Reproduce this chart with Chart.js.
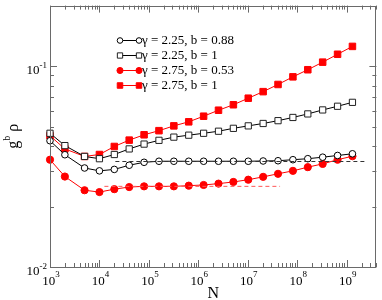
<!doctype html>
<html>
<head>
<meta charset="utf-8">
<script src="https://cdn.jsdelivr.net/npm/chart.js"></script>
<style>html,body{margin:0;padding:0;background:#fff}canvas{display:block}</style>
</head>
<body>
<canvas id="chart" width="382" height="300"></canvas>
<script>
// system sizes N (x axis)
const N = [1e3, 2e3, 5e3, 1e4, 2e4, 4e4, 8e4, 1.6e5, 3.2e5, 6.4e5, 1.28e6, 2.56e6,
  5.12e6, 1.024e7, 2.048e7, 4.096e7, 8.192e7, 1.6384e8, 3.2768e8, 6.5536e8, 1.31072e9];

// g^b rho for each (gamma, b)
const g225b088 = [0.0425, 0.0362, 0.0311, 0.0301, 0.0306, 0.0321, 0.0332, 0.0336, 0.0336, 0.0336, 0.0336,
  0.0336, 0.0336, 0.0336, 0.0337, 0.0338, 0.0342, 0.0346, 0.0352, 0.0359, 0.0366];
const g225b1 = [0.0463, 0.0402, 0.0355, 0.0346, 0.0363, 0.0387, 0.0409, 0.0427, 0.0443, 0.0453, 0.0463,
  0.0474, 0.0490, 0.0504, 0.0518, 0.0535, 0.0555, 0.0578, 0.0605, 0.0631, 0.0660];
const g275b053 = [0.0342, 0.0282, 0.0241, 0.0236, 0.0244, 0.0250, 0.0252, 0.0252, 0.0252, 0.0254, 0.0256,
  0.0260, 0.0265, 0.0272, 0.0281, 0.0291, 0.0301, 0.0314, 0.0326, 0.0342, 0.0356];
const g275b1 = [0.0450, 0.0387, 0.0355, 0.0363, 0.0398, 0.0428, 0.0455, 0.0477, 0.0504, 0.0528, 0.0563,
  0.0603, 0.0642, 0.0692, 0.0746, 0.0810, 0.0884, 0.0959, 0.1046, 0.1145, 0.1253];

// dashed plateau guides
const plateauBlackX = [2.1e4, 2.3e9];
const plateauBlackY = [0.0335, 0.0335];
const plateauRedX = [1.26e4, 4.5e7];
const plateauRedY = [0.0252, 0.0252];

const legendLabels = ['γ = 2.25, b = 0.88', 'γ = 2.25, b = 1', 'γ = 2.75, b = 0.53', 'γ = 2.75, b = 1'];
const xTickExps = [3, 4, 5, 6, 7, 8, 9];
const yTickExps = [-2, -1];

const SERIF = '"Liberation Serif", "Times New Roman", serif';
const pts = ys => ys.map((y, i) => ({ x: N[i], y }));
const seg = (xs, ys) => xs.map((x, i) => ({ x, y: ys[i] }));

const series = [
  { label: legendLabels[0], data: pts(g225b088), borderColor: '#000', pointStyle: 'circle', pointRadius: 3.3,
    pointBackgroundColor: '#fff', pointBorderColor: '#000' },
  { label: legendLabels[1], data: pts(g225b1), borderColor: '#000', pointStyle: 'rect', pointRadius: 4.4,
    pointBackgroundColor: '#fff', pointBorderColor: '#222' },
  { label: legendLabels[2], data: pts(g275b053), borderColor: '#f00', pointStyle: 'circle', pointRadius: 3.6,
    pointBackgroundColor: '#f00', pointBorderColor: '#f00' },
  { label: legendLabels[3], data: pts(g275b1), borderColor: '#f00', pointStyle: 'rect', pointRadius: 4.6,
    pointBackgroundColor: '#f00', pointBorderColor: '#f00' }
];

const datasets = [
  { data: seg(plateauBlackX, plateauBlackY), borderColor: '#333', borderDash: [4, 3], borderWidth: 1, pointRadius: 0 },
  { data: seg(plateauRedX, plateauRedY), borderColor: '#f55', borderDash: [4, 3], borderWidth: 1, pointRadius: 0 }
].concat(series.map(s => Object.assign({ borderWidth: 1, pointBorderWidth: 1, fill: false, clip: false }, s)));

function sup(ctx, base, exp, x, y, baseSize, supSize, align, supRise) {
  ctx.font = baseSize + 'px ' + SERIF;
  const wb = ctx.measureText(base).width;
  ctx.font = supSize + 'px ' + SERIF;
  const we = ctx.measureText(exp).width;
  const total = wb + we;
  let x0 = align === 'center' ? x - total / 2 : x - total;
  ctx.textAlign = 'left';
  ctx.textBaseline = 'alphabetic';
  ctx.font = baseSize + 'px ' + SERIF;
  ctx.fillText(base, x0, y);
  ctx.font = supSize + 'px ' + SERIF;
  ctx.fillText(exp, x0 + wb, y - supRise);
}

const frame = {
  id: 'frame',
  afterDraw(chart) {
    const { ctx, chartArea: a, scales } = chart;
    const xs = scales.x, ys = scales.y;
    ctx.save();
    ctx.strokeStyle = '#6a6a6a';
    ctx.lineWidth = 1;
    ctx.strokeRect(Math.round(a.left) + 0.5, Math.round(a.top) + 0.5,
      Math.round(a.right - a.left) - 1, Math.round(a.bottom - a.top));
    ctx.beginPath();
    for (let e = 3; e <= 9; e++) {
      for (let m = 1; m <= 9; m++) {
        const v = m * Math.pow(10, e);
        if (v < xs.min || v > xs.max) continue;
        const px = Math.round(xs.getPixelForValue(v)) + 0.5;
        const len = m === 1 ? 7 : 4;
        ctx.moveTo(px, a.bottom); ctx.lineTo(px, a.bottom - len);
        ctx.moveTo(px, a.top); ctx.lineTo(px, a.top + len);
      }
    }
    for (let e = -2; e <= -1; e++) {
      for (let m = 1; m <= 9; m++) {
        const v = m * Math.pow(10, e);
        if (v < ys.min || v > ys.max) continue;
        const py = Math.round(ys.getPixelForValue(v)) + 0.5;
        const len = m === 1 ? 7 : 4;
        ctx.moveTo(a.left, py); ctx.lineTo(a.left + len, py);
        ctx.moveTo(a.right, py); ctx.lineTo(a.right - len, py);
      }
    }
    ctx.stroke();

    ctx.fillStyle = '#000';
    xTickExps.forEach(e => {
      const px = xs.getPixelForValue(Math.pow(10, e));
      sup(ctx, '10', String(e), px + 1, a.bottom + 18, 13, 9, 'center', 8);
    });
    yTickExps.forEach(e => {
      const py = ys.getPixelForValue(Math.pow(10, e));
      sup(ctx, '10', String(e), a.left - 3, py + 8, 13, 9, 'right', 6);
    });

    // axis titles
    ctx.font = '16px ' + SERIF;
    ctx.textAlign = 'center';
    ctx.textBaseline = 'alphabetic';
    ctx.fillText('N', (a.left + a.right) / 2, 298);

    ctx.save();
    ctx.translate(17.5, (a.top + a.bottom) / 2);
    ctx.rotate(-Math.PI / 2);
    ctx.textAlign = 'left';
    ctx.font = '16px ' + SERIF;
    const wg = ctx.measureText('g').width;
    ctx.font = '10px ' + SERIF;
    const wbb = ctx.measureText('b').width;
    ctx.font = '16px ' + SERIF;
    const wr = ctx.measureText(' ρ').width;
    let u = -(wg + wbb + wr) / 2;
    ctx.fillText('g', u, 0); u += wg;
    ctx.font = '10px ' + SERIF;
    ctx.fillText('b', u, -8); u += wbb;
    ctx.font = '16px ' + SERIF;
    ctx.fillText(' ρ', u, 0);
    ctx.restore();

    // legend
    const rowY = [40, 55, 70, 85];
    series.forEach((s, i) => {
      const y = rowY[i];
      ctx.strokeStyle = s.borderColor;
      ctx.lineWidth = 1;
      ctx.beginPath(); ctx.moveTo(120, y + 0.5); ctx.lineTo(139, y + 0.5); ctx.stroke();
      [120, 139].forEach(x => {
        ctx.fillStyle = s.pointBackgroundColor;
        ctx.strokeStyle = s.pointBorderColor;
        Chart.helpers.drawPoint(ctx, { pointStyle: s.pointStyle, radius: s.pointRadius * 0.85, rotation: 0, borderWidth: 1 }, x, y + 0.5);
      });
      ctx.fillStyle = '#000';
      ctx.font = '13px ' + SERIF;
      ctx.textAlign = 'left';
      ctx.textBaseline = 'middle';
      ctx.fillText(s.label, 142, y + 1);
    });
    ctx.restore();
  }
};

new Chart(document.getElementById('chart'), {
  type: 'line',
  data: { datasets },
  options: {
    responsive: false,
    animation: false,
    devicePixelRatio: 1,
    layout: { padding: { left: 50, right: 2, top: 1, bottom: 33 } },
    plugins: { legend: { display: false }, tooltip: { enabled: false } },
    elements: { line: { tension: 0 } },
    scales: {
      x: { type: 'logarithmic', min: 1e3, max: 4e9, display: false },
      y: { type: 'logarithmic', min: 0.01, max: 0.2, display: false }
    }
  },
  plugins: [frame]
});
</script>
</body>
</html>
